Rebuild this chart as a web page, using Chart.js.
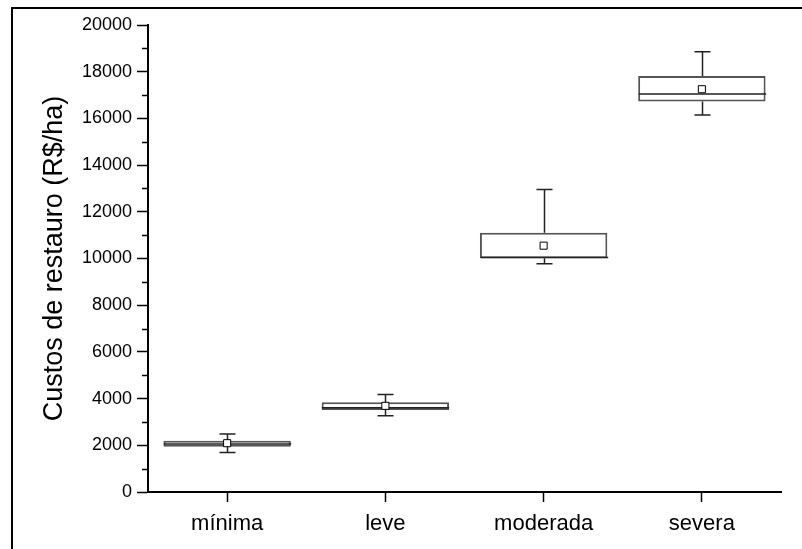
<!DOCTYPE html>
<html>
<head>
<meta charset="utf-8">
<script src="https://cdn.jsdelivr.net/npm/chart.js"></script>
<style>
html, body { margin: 0; padding: 0; background: #fff; overflow: hidden; width: 802px; height: 549px; }
#wrap { position: relative; width: 802px; height: 549px; overflow: hidden; }
#marco { position: absolute; left: 11px; top: 7px; width: 789px; height: 540px; border-left: 2px solid #000; border-top: 2px solid #000; pointer-events: none; }
canvas { position: absolute; left: 0; top: 0; }
</style>
</head>
<body>
<div id="wrap">
    <canvas id="custosChart" width="802" height="549"></canvas>
    <div id="marco"></div>
</div>
<script>
// Categorias de degradação
const categorias = ['mínima', 'leve', 'moderada', 'severa'];

// Estatísticas (R$/ha)
const minimos = [1690, 3270, 9780, 16150];
const quartil1 = [1940, 3510, 10010, 16720];
const medianas = [2060, 3610, 10040, 17050];
const quartil3 = [2200, 3840, 11100, 17820];
const maximos = [2480, 4180, 12960, 18850];
const medias = [2090, 3690, 10550, 17250];

// Marcas do eixo y
const yMin = 0;
const yMax = 20000;
const yPasso = 2000;
const yPassoMenor = 1000;

const fonte = "'Liberation Sans', Arial, sans-serif";

// Bigodes, caps e mediana desenhados com as escalas do Chart.js
const pluginBigodes = {
    id: 'bigodes',
    afterDatasetDraw(chart, args) {
        if (args.index !== 0) return;
        const ctx = chart.ctx;
        const xs = chart.scales.x;
        const ys = chart.scales.y;
        const barras = chart.getDatasetMeta(0).data;
        ctx.save();
        ctx.strokeStyle = '#222';
        ctx.lineWidth = 1.5;
        categorias.forEach((c, i) => {
            const x = Math.round(xs.getPixelForValue(i)) + 0.5;
            const yLo = ys.getPixelForValue(minimos[i]);
            const yQ1 = ys.getPixelForValue(quartil1[i]);
            const yQ3 = ys.getPixelForValue(quartil3[i]);
            const yHi = ys.getPixelForValue(maximos[i]);
            const cap = 8;
            ctx.beginPath();
            ctx.moveTo(x, yQ3); ctx.lineTo(x, yHi);
            ctx.moveTo(x - cap, yHi); ctx.lineTo(x + cap, yHi);
            ctx.moveTo(x, yQ1); ctx.lineTo(x, yLo);
            ctx.moveTo(x - cap, yLo); ctx.lineTo(x + cap, yLo);
            ctx.stroke();

            // mediana
            const w = barras[i].width / 2;
            const yMed = ys.getPixelForValue(medianas[i]);
            ctx.beginPath();
            ctx.moveTo(x - w, yMed); ctx.lineTo(x + w, yMed);
            ctx.stroke();
        });
        ctx.restore();
    },
    afterDraw(chart) {
        // marcas menores do eixo y
        const ctx = chart.ctx;
        const ys = chart.scales.y;
        const left = chart.chartArea.left;
        ctx.save();
        ctx.strokeStyle = '#000';
        ctx.lineWidth = 1.5;
        for (let v = yPassoMenor; v < yMax; v += yPasso) {
            const y = Math.round(ys.getPixelForValue(v)) + 0.5;
            ctx.beginPath();
            ctx.moveTo(left - 6, y);
            ctx.lineTo(left, y);
            ctx.stroke();
        }
        ctx.restore();
    }
};

const ctx = document.getElementById('custosChart').getContext('2d');
new Chart(ctx, {
    type: 'bar',
    data: {
        labels: categorias,
        datasets: [
            {
                type: 'bar',
                label: 'Caixa',
                data: categorias.map((c, i) => [quartil1[i], quartil3[i]]),
                backgroundColor: '#fff',
                borderColor: '#555',
                borderWidth: 2,
                borderSkipped: false,
                categoryPercentage: 1,
                barPercentage: 0.805,
                order: 2
            },
            {
                type: 'line',
                label: 'Média',
                data: medias,
                showLine: false,
                pointStyle: 'rect',
                pointRadius: 5,
                pointBorderWidth: 1,
                pointBorderColor: '#000',
                pointBackgroundColor: '#fff',
                order: 1
            }
        ]
    },
    options: {
        responsive: false,
        animation: false,
        layout: {
            padding: { top: 25, right: 21, bottom: 0, left: 0 }
        },
        plugins: {
            legend: { display: false },
            tooltip: { enabled: false }
        },
        scales: {
            x: {
                offset: true,
                afterFit(scale) { scale.height = 57; },
                grid: {
                    offset: false,
                    drawOnChartArea: false,
                    drawTicks: true,
                    tickLength: 10,
                    tickColor: '#000',
                    tickWidth: 1.5
                },
                border: { color: '#000', width: 2 },
                ticks: {
                    color: '#000',
                    padding: 9,
                    font: { family: fonte, size: 22 }
                }
            },
            y: {
                min: yMin,
                max: yMax,
                afterFit(scale) { scale.width = 148; },
                grid: {
                    drawOnChartArea: false,
                    drawTicks: true,
                    tickLength: 11,
                    tickColor: '#000',
                    tickWidth: 1.5
                },
                border: { color: '#000', width: 2 },
                ticks: {
                    stepSize: yPasso,
                    color: '#000',
                    padding: 5,
                    font: { family: fonte, size: 18 },
                    callback: (v) => String(v)
                },
                title: {
                    display: true,
                    text: 'Custos de restauro (R$/ha)',
                    color: '#000',
                    font: { family: fonte, size: 27 },
                    padding: { top: 38, bottom: 0 }
                }
            }
        }
    },
    plugins: [pluginBigodes]
});
</script>
</body>
</html>
